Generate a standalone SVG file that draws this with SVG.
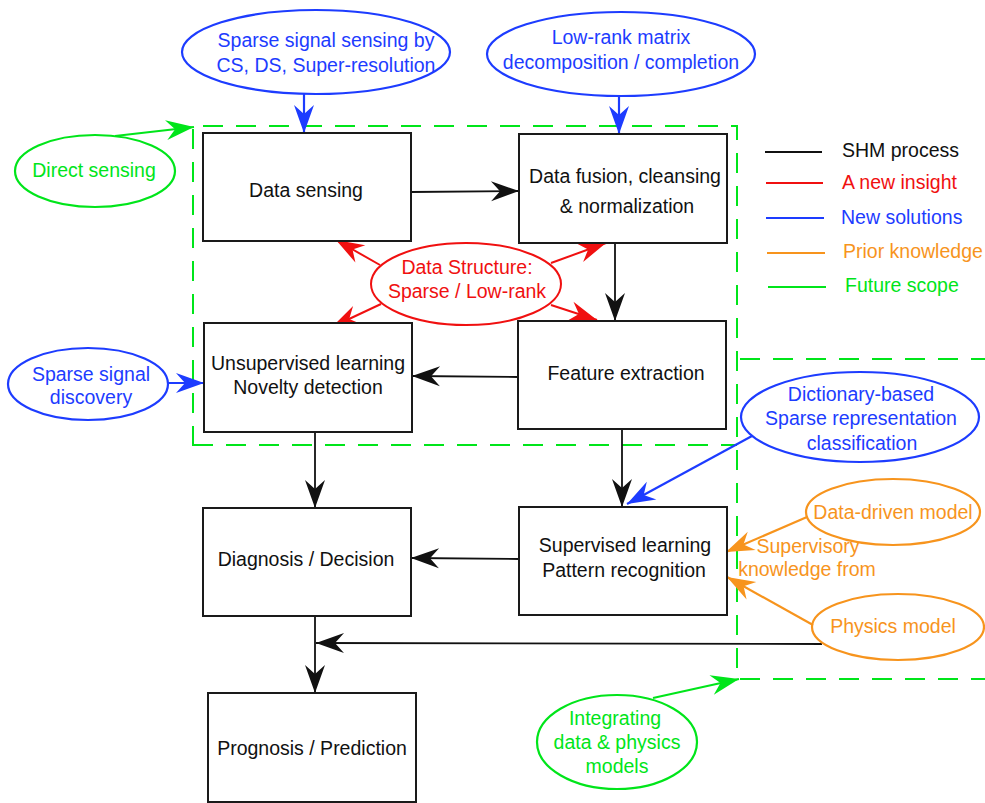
<svg xmlns="http://www.w3.org/2000/svg" width="985" height="803" viewBox="0 0 985 803">
<style>
text{font-family:"Liberation Sans",Arial,sans-serif;font-size:19.5px;text-anchor:middle}
.box{fill:#fff;stroke:#1a1a1a;stroke-width:2}
.bt{fill:#111}
.k{stroke:#111;stroke-width:1.8;fill:none}
.r{stroke:#f01010;stroke-width:2;fill:none}
.b{stroke:#1d3cff;stroke-width:2.2;fill:none}
.o{stroke:#f7941d;stroke-width:2.2;fill:none}
.g{stroke:#00e51a;stroke-width:2.2;fill:none}
.dash{stroke:#00e51a;stroke-width:2;fill:none;stroke-dasharray:20 13}
.tr{fill:#f01010}.tb{fill:#1d3cff}.to{fill:#f7941d}.tg{fill:#00e51a}
.lt{text-anchor:start}
</style>
<defs>
<marker id="ak" viewBox="-30 -11 32 22" refX="0" refY="0" markerWidth="32" markerHeight="22" markerUnits="userSpaceOnUse" orient="auto"><path d="M0,0 L-28,-10 L-19,0 L-28,10 Z" fill="#111"/></marker>
<marker id="ar" viewBox="-30 -11 32 22" refX="0" refY="0" markerWidth="32" markerHeight="22" markerUnits="userSpaceOnUse" orient="auto"><path d="M0,0 L-28,-10 L-19,0 L-28,10 Z" fill="#f01010"/></marker>
<marker id="ab" viewBox="-30 -11 32 22" refX="0" refY="0" markerWidth="32" markerHeight="22" markerUnits="userSpaceOnUse" orient="auto"><path d="M0,0 L-28,-10 L-19,0 L-28,10 Z" fill="#1d3cff"/></marker>
<marker id="ao" viewBox="-30 -11 32 22" refX="0" refY="0" markerWidth="32" markerHeight="22" markerUnits="userSpaceOnUse" orient="auto"><path d="M0,0 L-28,-10 L-19,0 L-28,10 Z" fill="#f7941d"/></marker>
<marker id="ag" viewBox="-30 -11 32 22" refX="0" refY="0" markerWidth="32" markerHeight="22" markerUnits="userSpaceOnUse" orient="auto"><path d="M0,0 L-28,-10 L-19,0 L-28,10 Z" fill="#00e51a"/></marker>
</defs>
<rect width="985" height="803" fill="#fff"/>

<g id="scope-regions">
<path class="dash" d="M193,446 V126 H737 V679"/>
<path class="dash" d="M193,445 H737"/>
<path class="dash" d="M740,359 H985"/>
<path class="dash" d="M740,679 H985"/>
</g>

<g id="connectors">
<line class="k" x1="411" y1="192" x2="519" y2="191" marker-end="url(#ak)"/>
<line class="k" x1="615" y1="243" x2="615" y2="321" marker-end="url(#ak)"/>
<line class="k" x1="518" y1="377" x2="412" y2="376" marker-end="url(#ak)"/>
<line class="k" x1="622" y1="429" x2="622" y2="507" marker-end="url(#ak)"/>
<line class="k" x1="315" y1="432" x2="315" y2="508" marker-end="url(#ak)"/>
<line class="k" x1="519" y1="559" x2="411" y2="558" marker-end="url(#ak)"/>
<line class="k" x1="315" y1="617" x2="315" y2="693" marker-end="url(#ak)"/>
<line class="k" x1="822" y1="644" x2="316" y2="643" marker-end="url(#ak)"/>
<line class="r" x1="380" y1="265" x2="336" y2="240" marker-end="url(#ar)"/>
<line class="r" x1="551" y1="263" x2="606" y2="243" marker-end="url(#ar)"/>
<line class="r" x1="381" y1="304" x2="332" y2="327" marker-end="url(#ar)"/>
<line class="r" x1="551" y1="305" x2="597" y2="320" marker-end="url(#ar)"/>
<line class="b" x1="304" y1="94" x2="304" y2="133" marker-end="url(#ab)"/>
<line class="b" x1="619" y1="96" x2="619" y2="134" marker-end="url(#ab)"/>
<line class="b" x1="168" y1="383" x2="204" y2="383" marker-end="url(#ab)"/>
<line class="b" x1="752" y1="436" x2="627" y2="504" marker-end="url(#ab)"/>
<line class="o" x1="807" y1="517" x2="726" y2="552" marker-end="url(#ao)"/>
<line class="o" x1="813" y1="625" x2="727" y2="577" marker-end="url(#ao)"/>
<line class="g" x1="115" y1="136" x2="194" y2="127" marker-end="url(#ag)"/>
<line class="g" x1="653" y1="698" x2="739" y2="679" marker-end="url(#ag)"/>
</g>

<g id="node-data-sensing">
<rect class="box" x="203" y="133" width="208" height="108"/>
<text class="bt" x="306" y="197">Data sensing</text>
</g>
<g id="node-data-fusion">
<rect class="box" x="519" y="134" width="208" height="109"/>
<text class="bt" x="625" y="183">Data fusion, cleansing</text>
<text class="bt" x="627" y="213">&amp; normalization</text>
</g>
<g id="node-unsupervised">
<rect class="box" x="204" y="323" width="208" height="109"/>
<text class="bt" x="308" y="370">Unsupervised learning</text>
<text class="bt" x="308" y="394">Novelty detection</text>
</g>
<g id="node-feature">
<rect class="box" x="518" y="321" width="208" height="108"/>
<text class="bt" x="626" y="380">Feature extraction</text>
</g>
<g id="node-supervised">
<rect class="box" x="519" y="507" width="208" height="108"/>
<text class="bt" x="625" y="552">Supervised learning</text>
<text class="bt" x="624" y="577">Pattern recognition</text>
</g>
<g id="node-diagnosis">
<rect class="box" x="203" y="508" width="208" height="108"/>
<text class="bt" x="306" y="566">Diagnosis / Decision</text>
</g>
<g id="node-prognosis">
<rect class="box" x="208" y="693" width="208" height="109"/>
<text class="bt" x="312" y="755">Prognosis / Prediction</text>
</g>

<g id="node-data-structure">
<ellipse class="r" cx="466" cy="284" rx="95" ry="41"/>
<text class="tr" x="467" y="274">Data Structure:</text>
<text class="tr" x="467" y="298">Sparse / Low-rank</text>
</g>
<g id="node-sparse-sensing">
<ellipse class="b" cx="316" cy="52" rx="134" ry="42"/>
<text class="tb" x="326" y="47">Sparse signal sensing by</text>
<text class="tb" x="326" y="72">CS, DS, Super-resolution</text>
</g>
<g id="node-lowrank">
<ellipse class="b" cx="621" cy="54" rx="134" ry="42"/>
<text class="tb" x="621" y="44">Low-rank matrix</text>
<text class="tb" x="621" y="69">decomposition / completion</text>
</g>
<g id="node-sparse-discovery">
<ellipse class="b" cx="88" cy="384" rx="80" ry="36"/>
<text class="tb" x="91" y="381">Sparse signal</text>
<text class="tb" x="91" y="404">discovery</text>
</g>
<g id="node-dictionary">
<ellipse class="b" cx="860" cy="417" rx="119" ry="45"/>
<text class="tb" x="861" y="401">Dictionary-based</text>
<text class="tb" x="861" y="425">Sparse representation</text>
<text class="tb" x="862" y="450">classification</text>
</g>
<g id="node-data-driven">
<ellipse class="o" cx="893" cy="512" rx="87" ry="33"/>
<text class="to" x="893" y="519">Data-driven model</text>
</g>
<g id="node-physics">
<ellipse class="o" cx="898" cy="627" rx="86" ry="33"/>
<text class="to" x="893" y="633">Physics model</text>
</g>
<g id="label-supervisory">
<text class="to" x="808" y="553">Supervisory</text>
<text class="to" x="807" y="576">knowledge from</text>
</g>
<g id="node-direct-sensing">
<ellipse class="g" cx="95" cy="171" rx="80" ry="36"/>
<text class="tg" x="94" y="177">Direct sensing</text>
</g>
<g id="node-integrating">
<ellipse class="g" cx="617" cy="742" rx="80" ry="47"/>
<text class="tg" x="615" y="725">Integrating</text>
<text class="tg" x="617" y="749">data &amp; physics</text>
<text class="tg" x="617" y="773">models</text>
</g>

<g id="legend">
<line x1="765" y1="152" x2="822" y2="152" stroke="#111" stroke-width="2"/>
<line x1="766" y1="183" x2="823" y2="183" stroke="#f01010" stroke-width="2"/>
<line x1="766" y1="218" x2="824" y2="218" stroke="#1d3cff" stroke-width="2"/>
<line x1="767" y1="253" x2="825" y2="253" stroke="#f7941d" stroke-width="2"/>
<line x1="768" y1="287" x2="826" y2="287" stroke="#00e51a" stroke-width="2"/>
<text class="bt lt" x="842" y="157">SHM process</text>
<text class="tr lt" x="842" y="189">A new insight</text>
<text class="tb lt" x="841" y="224">New solutions</text>
<text class="to lt" x="843" y="258">Prior knowledge</text>
<text class="tg lt" x="845" y="292">Future scope</text>
</g>
</svg>
